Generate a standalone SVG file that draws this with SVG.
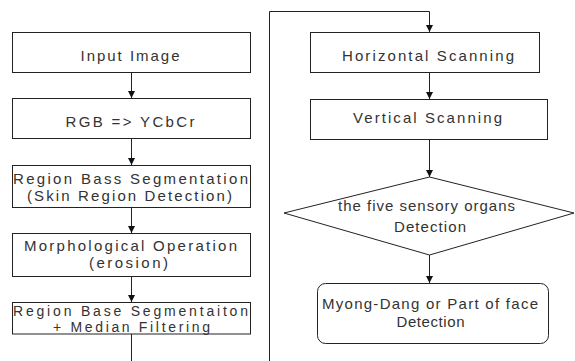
<svg xmlns="http://www.w3.org/2000/svg" width="575" height="361" viewBox="0 0 575 361">
  <style>
    .box { fill: #ffffff; stroke: #222222; stroke-width: 1; }
    .lbl { font-family: "Liberation Sans", Arial, sans-serif; font-size: 15px; fill: #333333; text-anchor: middle; }
    .lbl-sm { font-size: 14px; }
    .conn { fill: none; stroke: #222222; stroke-width: 1; }
  </style>
  <defs>
    <marker id="arrow" markerUnits="userSpaceOnUse" markerWidth="7" markerHeight="8" refX="7" refY="3.5" orient="auto">
      <path d="M0,0 L7,3.5 L0,7 Z" fill="#111111"/>
    </marker>
  </defs>
  <rect width="575" height="361" fill="#ffffff"/>

  <!-- connectors -->
  <g id="connectors">
    <line class="conn" x1="131.5" y1="72" x2="131.5" y2="98" marker-end="url(#arrow)"/>
    <line class="conn" x1="131.5" y1="138" x2="131.5" y2="165" marker-end="url(#arrow)"/>
    <line class="conn" x1="131.5" y1="207" x2="131.5" y2="233" marker-end="url(#arrow)"/>
    <line class="conn" x1="131.5" y1="276" x2="131.5" y2="302" marker-end="url(#arrow)"/>
    <line class="conn" x1="131.5" y1="334" x2="131.5" y2="361"/>
    <polyline class="conn" points="269.5,361 269.5,11.5 429.5,11.5 429.5,32" marker-end="url(#arrow)"/>
    <line class="conn" x1="429.5" y1="72" x2="429.5" y2="99" marker-end="url(#arrow)"/>
    <line class="conn" x1="429.5" y1="139" x2="429.5" y2="177" marker-end="url(#arrow)"/>
    <line class="conn" x1="429.5" y1="255" x2="429.5" y2="283" marker-end="url(#arrow)"/>
  </g>

  <!-- left column -->
  <g id="input-image">
    <rect class="box" x="12.5" y="32.5" width="238" height="40"/>
    <text class="lbl" x="130" y="61" textLength="99" lengthAdjust="spacing">Input Image</text>
  </g>
  <g id="rgb-ycbcr">
    <rect class="box" x="12.5" y="98.5" width="238" height="40"/>
    <text class="lbl" x="130" y="127" textLength="129" lengthAdjust="spacing">RGB =&gt; YCbCr</text>
  </g>
  <g id="region-bass-segmentation">
    <rect class="box" x="12.5" y="165.5" width="238" height="42"/>
    <text class="lbl" x="130.5" y="184" textLength="235" lengthAdjust="spacing">Region Bass Segmentation</text>
    <text class="lbl" x="129.5" y="201" textLength="205" lengthAdjust="spacing">(Skin Region Detection)</text>
  </g>
  <g id="morphological-operation">
    <rect class="box" x="12.5" y="233.5" width="238" height="43"/>
    <text class="lbl" x="130.5" y="251" textLength="213" lengthAdjust="spacing">Morphological Operation</text>
    <text class="lbl" x="128.5" y="268" textLength="79" lengthAdjust="spacing">(erosion)</text>
  </g>
  <g id="region-base-segmentation">
    <rect class="box" x="12.5" y="302.5" width="238" height="31.5"/>
    <text class="lbl lbl-sm" x="130.5" y="316" textLength="235" lengthAdjust="spacing">Region Base Segmentaiton</text>
    <text class="lbl lbl-sm" x="131.5" y="332" textLength="157" lengthAdjust="spacing">+ Median Filtering</text>
  </g>

  <!-- right column -->
  <g id="horizontal-scanning">
    <rect class="box" x="310.5" y="32.5" width="229" height="40"/>
    <text class="lbl" x="428" y="61" textLength="172" lengthAdjust="spacing">Horizontal Scanning</text>
  </g>
  <g id="vertical-scanning">
    <rect class="box" x="310.5" y="99.5" width="237" height="40"/>
    <text class="lbl" x="427.5" y="123" textLength="149" lengthAdjust="spacing">Vertical Scanning</text>
  </g>
  <g id="sensory-organs-detection">
    <polygon class="box" points="429.5,177 574,213 429.5,255 284,213"/>
    <text class="lbl" x="426.5" y="211" textLength="177" lengthAdjust="spacing">the five sensory organs</text>
    <text class="lbl" x="430" y="232" textLength="72" lengthAdjust="spacing">Detection</text>
  </g>
  <g id="myong-dang-detection">
    <rect class="box" x="317.5" y="283.5" width="231" height="60" rx="8" ry="8"/>
    <text class="lbl" x="430" y="309" textLength="216" lengthAdjust="spacing">Myong-Dang or Part of face</text>
    <text class="lbl" x="430.5" y="327" textLength="68" lengthAdjust="spacing">Detection</text>
  </g>
</svg>
